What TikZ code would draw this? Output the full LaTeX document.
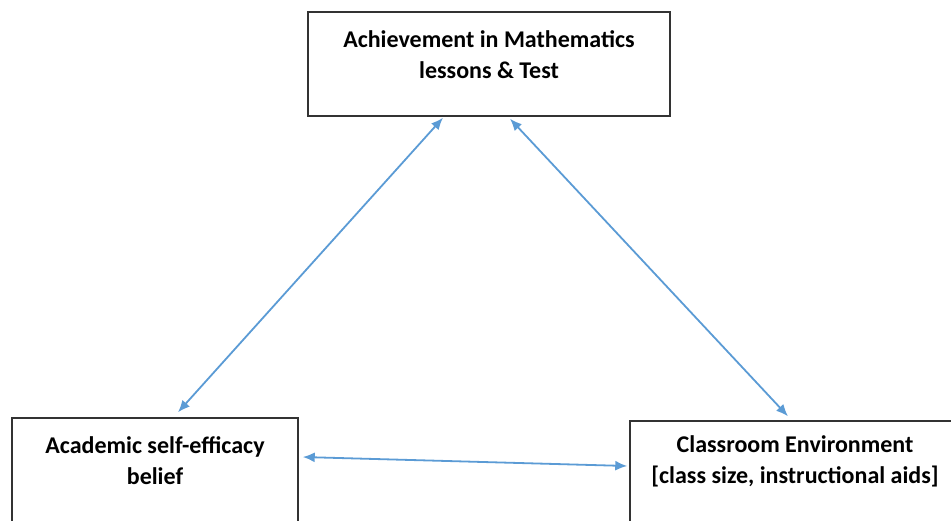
\documentclass[tikz,border=0pt]{standalone}
\usepackage{fontspec}
\setmainfont{Carlito}
\usepackage{tikz}
\usetikzlibrary{arrows.meta,calc}
\definecolor{linkblue}{RGB}{91,155,213}

\begin{document}
\begin{tikzpicture}[x=1pt,y=-1pt,
	box/.style={draw=black!80,line width=1.5pt,fill=white,inner sep=0pt},
	txt/.style={anchor=base,align=center,inner sep=0pt,font=\bfseries\fontsize{24}{31}\selectfont},
	link/.style={draw=linkblue,line width=1.8pt,{Latex[length=12pt,width=10pt]}-{Latex[length=12pt,width=10pt]}}]

	\clip (0,0) rectangle (951,520);

	\node (bA) [box,minimum width=362pt,minimum height=104pt] at (489,64) {};
	\node (bB) [box,minimum width=286pt,minimum height=122pt] at (155,479) {};
	\node (bC) [box,minimum width=330pt,minimum height=120pt] at (795,481) {};

	\node (tA) [txt] at (489,78) {Achievement in Mathematics\\lessons \& Test};
	\node (tB) [txt] at (155,484) {Academic self-efficacy\\belief};
	\node (tC) [txt] at (795,483) {Classroom Environment\\{[class size, instructional aids]}};

	\draw[link] ([xshift=-46pt,yshift=-1pt]bA.south) -- ([xshift=23pt,yshift=5pt]bB.north);
	\draw[link] ([xshift=21pt,yshift=-2pt]bA.south) -- ([xshift=-7pt,yshift=4pt]bC.north);
	\draw[link] ([xshift=4pt,yshift=22pt]bB.east) -- ([xshift=-2pt,yshift=15pt]bC.west);

\end{tikzpicture}
\end{document}
